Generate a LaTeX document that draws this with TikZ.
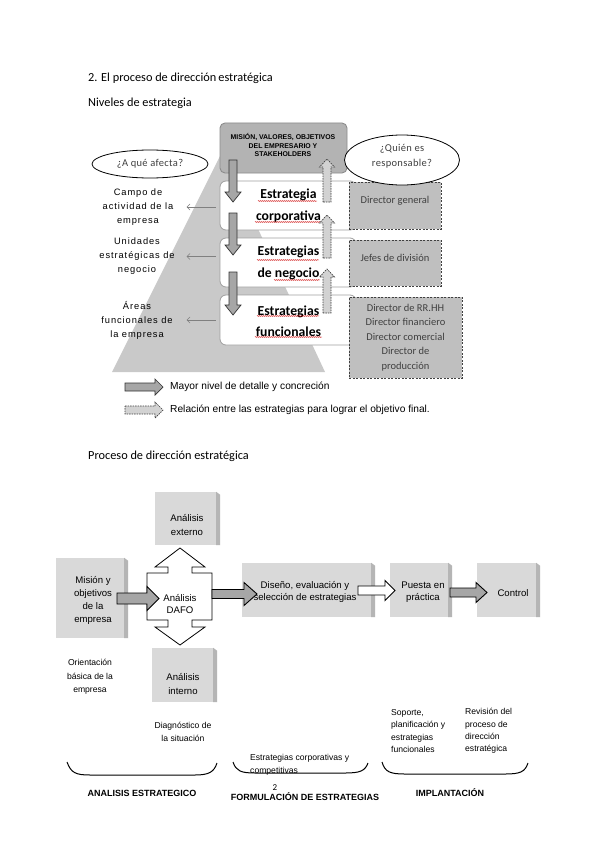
\documentclass[tikz,border=0pt]{standalone}
\usepackage{fontspec}
\setmainfont{Carlito}
\newfontfamily\arialf{Liberation Sans}
\newfontfamily\arialsp[LetterSpace=10]{Liberation Sans}
\newfontfamily\carlsp[LetterSpace=3]{Carlito}
\usetikzlibrary{calc,shapes.geometric,arrows.meta,decorations.pathmorphing}
\definecolor{pyr}{HTML}{C9C9C9}
\definecolor{topbox}{HTML}{B3B3B3}
\definecolor{dbox}{HTML}{BFBFBF}
\definecolor{barr}{HTML}{A6A6A6}
\definecolor{bface}{HTML}{D9D9D9}
\definecolor{bside}{HTML}{B5B5B5}
\definecolor{dtext}{HTML}{404040}
% vertical block arrow: x, y start, y tip, shaft half, head half, head length (signed), style
\newcommand\vblk[7]{\draw[#7] ({#1-#4},#2) -- ({#1-#4},{#3-#6}) -- ({#1-#5},{#3-#6}) -- (#1,#3) -- ({#1+#5},{#3-#6}) -- ({#1+#4},{#3-#6}) -- ({#1+#4},#2) -- cycle;}
% horizontal block arrow: x start, x tip, y, shaft half, head half, head length, style
\newcommand\hblk[7]{\draw[#7] (#1,{#3-#4}) -- ({#2-#6},{#3-#4}) -- ({#2-#6},{#3-#5}) -- (#2,#3) -- ({#2-#6},{#3+#5}) -- ({#2-#6},{#3+#4}) -- (#1,{#3+#4}) -- cycle;}
% 3D box: name, center, width, height
\newcommand\tdbox[4]{\node[bbox, minimum width=#3, minimum height=#4] (#1) at #2 {};
 \fill[bside] (#1.north east) -- ($(#1.north east)+(4,3)$) -- ($(#1.south east)+(4,0)$) -- (#1.south east) -- cycle;}
\begin{document}
\begin{tikzpicture}[x=1pt,y=-1pt,
  head/.style={inner sep=0pt, anchor=west, font=\fontsize{12.3}{14}\selectfont},
  sbox/.style={draw=gray!75, fill=white, rounded corners=6pt, line width=0.8pt, minimum width=136, minimum height=49, inner sep=0pt},
  stxt/.style={inner sep=0pt, align=center, font=\bfseries\fontsize{13.7}{22}\selectfont},
  redul/.style={draw=red!80!black, line width=0.45pt, decorate, decoration={snake, amplitude=0.35pt, segment length=2pt}},
  dboxs/.style={draw=black!75, fill=dbox, line width=0.8pt, dash pattern=on 2pt off 1.5pt, inner sep=0pt},
  dtxt/.style={inner sep=0pt, align=center, text=dtext, font=\fontsize{10.5}{14.5}\selectfont},
  ell/.style={ellipse, draw=black, fill=white, line width=0.8pt, inner sep=0pt},
  etxt/.style={inner sep=0pt, align=center, text=dtext, font=\carlsp\fontsize{10.5}{15}\selectfont},
  ltxt/.style={inner sep=0pt, align=center, font=\arialsp\fontsize{9.3}{14}\selectfont},
  thinarr/.style={draw=gray, line width=0.6pt, -{Straight Barb[length=3pt,width=6pt]}},
  solidblk/.style={fill=barr, draw=black!80, line width=0.7pt},
  dashblk/.style={fill=gray!35, draw=black!75, line width=0.7pt, dash pattern=on 1.5pt off 1pt},
  legtxt/.style={inner sep=0pt, anchor=west, font=\arialf\fontsize{10.2}{12}\selectfont},
  bbox/.style={fill=bface, inner sep=0pt},
  btxt/.style={inner sep=0pt, align=center, font=\arialf\fontsize{9.6}{13.5}\selectfont},
  blk2/.style={fill=barr, draw=black, line width=0.9pt},
  wblk/.style={fill=white, draw=black, line width=0.9pt},
  otxt/.style={inner sep=0pt, font=\arialf\fontsize{8.6}{13.5}\selectfont},
  brace/.style={draw=black, line width=1pt},
  btitle/.style={inner sep=0pt, font=\arialf\bfseries\fontsize{9}{11}\selectfont}
]
\useasboundingbox (0,0) rectangle (599,848);
\fill[white] (0,0) rectangle (599,848);

% ---------- headings
\node[head] (h1) at (88,78) {2. El proceso de dirección\,estratégica};
\node[head] (h2) at (88,103) {Niveles de estrategia};
\node[head] (h3) at (88,456) {Proceso de dirección estratégica};

% ---------- pyramid
\fill[pyr] (112,372) -- (325,372) -- (222,152) -- cycle;

% strategy boxes
\node[sbox] (corp) at (288,205.5) {};
\node[sbox] (neg) at (288,262.5) {};
\node[sbox, minimum height=50] (func) at (288,320) {};

% top box
\node[draw=gray!90, fill=topbox, rounded corners=5pt, line width=0.9pt, minimum width=127, minimum height=50, inner sep=0pt] (mvo) at (283.5,148) {};
\node[inner sep=0pt, align=center, font=\arialf\bfseries\fontsize{6.9}{8.2}\selectfont] (mvot) at (283,145) {MISIÓN, VALORES, OBJETIVOS\\DEL EMPRESARIO Y\\STAKEHOLDERS};

% strategy texts
\node[stxt] (corpt) at (288.5,206) {Estrategia\\corporativa};
\node[stxt] (negt) at (288.5,263) {Estrategias\\de negocio};
\node[stxt, font=\bfseries\fontsize{13.7}{20.5}\selectfont] (funct) at (288.5,321) {Estrategias\\funcionales};
\draw[redul] (258,201) -- (317,201);
\draw[redul] (255,222) -- (322,222);
\draw[redul] (257,260) -- (319,260);
\draw[redul] (274,280) -- (320,280);
\draw[redul] (257,316) -- (319,316);
\draw[redul] (255,337) -- (322,337);

% responsible boxes
\node[dboxs, minimum width=92, minimum height=47] (dg) at (395,205.5) {};
\node[dtxt] (dgt) at (395,201) {Director general};
\node[dboxs, minimum width=92, minimum height=46] (jd) at (395,263) {};
\node[dtxt] (jdt) at (395,258) {Jefes de división};
\node[dboxs, minimum width=113, minimum height=81] (df) at (405.5,337.5) {};
\node[dtxt] (dft) at (405.5,337.5) {Director de RR.HH\\Director financiero\\Director comercial\\Director de\\producción};

% down arrows
\vblk{233}{160}{202}{4}{8}{10}{solidblk}
\vblk{233}{213}{255}{4}{8}{10}{solidblk}
\vblk{233}{272}{315}{4}{8}{10}{solidblk}
% up dashed arrows
\vblk{327}{202}{159}{4}{7.5}{-8}{dashblk}
\vblk{327}{258}{215}{4}{7.5}{-8}{dashblk}
\vblk{327}{313}{269}{4}{7.5}{-8}{dashblk}

% ellipses
\node[ell, minimum width=116, minimum height=28, font=\carlsp\fontsize{10.5}{12}\selectfont, text=dtext] (afe) at (150,164) {¿A qué afecta?};
\node[ell, minimum width=115, minimum height=50] (qui) at (402,160) {};
\node[etxt] (quit) at (402,156) {¿Quién es\\responsable?};

% left labels
\node[ltxt] (campo) at (138,207) {Campo de\\actividad de la\\empresa};
\node[ltxt] (unid) at (137,256.5) {Unidades\\estratégicas de\\negocio};
\node[ltxt] (areas) at (137,320) {Áreas\\funcionales de\\la empresa};
\draw[thinarr] ($(corp.west |- campo.east)+(-4,0)$) -- ($(corp.west |- campo.east)+(-33,0)$);
\draw[thinarr] ($(neg.west |- unid.east)+(-4,0)$) -- ($(neg.west |- unid.east)+(-33,0)$);
\draw[thinarr] ($(func.west |- areas.east)+(-4,0)$) -- ($(func.west |- areas.east)+(-33,0)$);

% legend
\hblk{125}{163}{387}{4}{8}{8}{solidblk}
\node[legtxt] (leg1) at (170,387) {Mayor nivel de detalle y concreción};
\hblk{125}{163}{410}{4}{8}{8}{dashblk}
\node[legtxt] (leg2) at (170,410) {Relación entre las estrategias para lograr el objetivo final.};

% ---------- process diagram
\tdbox{ext}{(185.5,518.5)}{61}{53}
\tdbox{mis}{(90,598)}{68}{80}
\tdbox{int}{(182.5,675)}{61}{54}
\tdbox{dis}{(306.5,590)}{129}{54}
\tdbox{pue}{(419,590)}{58}{54}
\tdbox{con}{(506.5,590)}{59}{54}

\node[btxt] (extt) at (187,525) {Análisis\\externo};
\node[btxt, font=\arialf\fontsize{9.6}{13}\selectfont] (mist) at (93,600) {Misión y\\objetivos\\de la\\empresa};
\node[btxt] (intt) at (183,684) {Análisis\\interno};
\node[btxt, font=\arialf\fontsize{9.6}{12}\selectfont] (dist) at (305,592) {Diseño, evaluación y\\selección de estrategias};
\node[btxt, font=\arialf\fontsize{9.6}{12}\selectfont] (puet) at (423,592) {Puesta en\\práctica};
\node[btxt] (cont) at (513,593) {Control};

% DAFO cross
\draw[fill=white, draw=black, line width=0.8pt] (147,573) -- (168,573) -- (168,567) -- (155,567) -- (180,548) -- (205,567) -- (192,567) -- (192,573) -- (212,573) -- (212,620) -- (192,620) -- (192,627) -- (205,627) -- (180,645) -- (155,627) -- (168,627) -- (168,620) -- (147,620) -- cycle;
\node[btxt, font=\arialf\fontsize{9.6}{12.5}\selectfont] (dafo) at (180,604) {Análisis\\DAFO};

% block arrows of the process
\hblk{117}{159}{598.5}{5.5}{12}{12}{blk2}
\hblk{212}{257}{594}{4.5}{11.5}{13}{blk2}
\hblk{358}{395}{590.5}{4.5}{10}{10}{wblk}
\hblk{450}{487}{592.5}{4.5}{10}{11}{blk2}

% notes
\node[otxt, align=center] (ori) at (90,677) {Orientación\\básica de la\\empresa};
\node[otxt, align=center] (diag) at (183,732) {Diagnóstico de\\la situación};
\node[otxt, align=left, anchor=west] (ecc) at (250,765) {Estrategias corporativas y\\competitivas};
\node[otxt, align=left, anchor=west, font=\arialf\fontsize{8.6}{12.4}\selectfont] (sop) at (391,731) {Soporte,\\planificación y\\estrategias\\funcionales};
\node[otxt, align=left, anchor=west, font=\arialf\fontsize{8.6}{12.4}\selectfont] (rev) at (465,731) {Revisión del\\proceso de\\dirección\\estratégica};

% brackets
\draw[brace] (67,762) .. controls (71,773) and (76,775) .. (90,775) -- (195,775) .. controls (209,775) and (214,772) .. (217,763);
\draw[brace] (233,762) .. controls (236,771) and (241,773) .. (255,773) -- (345,773) .. controls (360,773) and (365,771) .. (368,763);
\draw[brace] (382,762) .. controls (385,772) and (390,774) .. (405,774) -- (505,774) .. controls (520,774) and (525,772) .. (528,763);

\node[btitle] (t1) at (142,793) {ANALISIS ESTRATEGICO};
\node[btitle] (t2) at (305,797) {FORMULACIÓN DE ESTRATEGIAS};
\node[inner sep=0pt, font=\fontsize{9}{10}\selectfont] (pg) at (275,787.5) {2};
\node[btitle] (t3) at (450,793) {IMPLANTACIÓN};
\end{tikzpicture}
\end{document}
